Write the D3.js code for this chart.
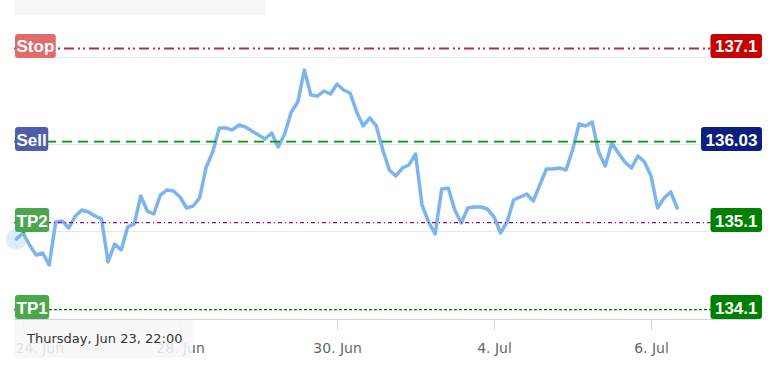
<!DOCTYPE html>
<html><head><meta charset="utf-8">
<script src="https://cdn.jsdelivr.net/npm/d3@7"></script>
<style>body{margin:0;background:#fff}svg{display:block}</style>
</head><body><svg id="c" width="771" height="371"></svg>
<script>
// Prices every 2 hours on an ordinal (weekend-less) axis; index 0 = Thu Jun 23 22:00
const prices = [
 134.911,134.980,134.842,134.727,134.750,134.612,135.106,135.118,135.037,135.175,
 135.244,135.221,135.175,135.141,134.647,134.853,134.785,135.049,135.083,135.405,
 135.232,135.198,135.416,135.474,135.462,135.393,135.267,135.290,135.382,135.738,
 135.910,136.186,136.186,136.163,136.220,136.197,136.151,136.105,136.059,136.128,
 135.968,136.117,136.370,136.484,136.852,136.565,136.553,136.611,136.576,136.691,
 136.622,136.588,136.370,136.209,136.301,136.209,135.933,135.703,135.635,135.726,
 135.761,135.887,135.301,135.106,134.968,135.485,135.497,135.244,135.095,135.267,
 135.278,135.278,135.255,135.164,134.980,135.106,135.359,135.393,135.428,135.347,
 135.531,135.715,135.715,135.726,135.703,135.933,136.232,136.209,136.255,135.910,
 135.749,136.014,135.899,135.795,135.726,135.864,135.795,135.635,135.267,135.382,
 135.451,135.267
];
const tickIndex = [1, 25, 49, 73, 97];
const tickLabels = ["24. Jun", "28. Jun", "30. Jun", "4. Jul", "6. Jul"];
const gridValues = [135, 136, 137];
const levelNames = ["Stop", "Sell", "TP2", "TP1"];
const levelValues = [137.1, 136.03, 135.1, 134.1];
const levelTexts = ["137.1", "136.03", "135.1", "134.1"];
const hoverIndex = 0;
const tooltipText = "Thursday, Jun 23, 22:00";

// styles
const levelStroke = ["#a93636", "#009a00", "#9c009c", "#006f00"];
const levelDash = ["10,4,2,3,2,4", "10,6", "4,3,1,3", "3,2"];
const levelWidth = [2, 1.8, 1.3, 1.2];
const leftFill = ["#df6b6b", "#4f5eaa", "#4ca64c", "#4ca64c"];
const rightFill = ["#c80000", "#0b1f80", "#008000", "#008000"];

const svg = d3.select("#c");
const L = 14, R = 757;
const x = d3.scaleLinear().domain([-0.38, 113.2]).range([L, R]);
const y = d3.scaleLinear().domain([134, 137]).range([318.3, 57.1]);
const axisY = 319;

// top grey strip
svg.append("rect").attr("x", 14).attr("y", 0).attr("width", 252).attr("height", 15).attr("fill", "#f7f7f7");

// grid
svg.append("g").selectAll("line").data(gridValues).join("line")
  .attr("x1", L).attr("x2", R)
  .attr("y1", d => Math.round(y(d)) + 0.5).attr("y2", d => Math.round(y(d)) + 0.5)
  .attr("stroke", "#e6e6e6").attr("stroke-width", 1);

// x axis
const xAxis = d3.axisBottom(x).tickValues(tickIndex).tickFormat((d, i) => tickLabels[i]).tickSize(11).tickPadding(13);
const ax = svg.append("g").attr("transform", `translate(0,${axisY})`).call(xAxis);
ax.select(".domain").attr("stroke", "#ccd6eb").attr("d", `M${L},0.5H${R}`);
ax.selectAll(".tick line").attr("stroke", "#ccd6eb");
ax.selectAll(".tick text").attr("fill", "#666").style("font", "14px 'DejaVu Sans'");
ax.selectAll(".tick text").each(function () {
  const t = d3.select(this);
  const w = this.getComputedTextLength();
  const tx = x(tickIndex[tickLabels.indexOf(t.text())]);
  if (tx - w / 2 < L + 1) t.attr("text-anchor", "start").attr("x", L + 1 - tx);
});

// series
const line = d3.line().x((d, i) => x(i)).y(d => y(d));
svg.append("path").datum(prices).attr("d", line)
  .attr("fill", "none").attr("stroke", "#7cb5ec").attr("stroke-width", 3.5)
  .attr("stroke-linejoin", "round").attr("stroke-linecap", "round");

// hover halo
svg.append("circle").attr("cx", x(hoverIndex)).attr("cy", y(prices[hoverIndex]))
  .attr("r", 10.5).attr("fill", "#7cb5ec").attr("fill-opacity", 0.25);
svg.append("circle").attr("cx", x(hoverIndex) + 7.5).attr("cy", y(levelValues[2]) + 8)
  .attr("r", 2).attr("fill", "none").attr("stroke", "#1a7a1a").attr("stroke-width", 1);

// level lines
const lv = svg.append("g");
lv.selectAll("line").data(levelValues).join("line")
  .attr("x1", L).attr("x2", R)
  .attr("y1", d => y(d)).attr("y2", d => y(d))
  .attr("stroke", (d, i) => levelStroke[i])
  .attr("stroke-dasharray", (d, i) => levelDash[i])
  .attr("stroke-width", (d, i) => levelWidth[i]);

// level labels
const font = "bold 17px 'Liberation Sans', Arial, sans-serif";
levelValues.forEach((v, i) => {
  const yy = y(v);
  const top = yy - 14.5, h = 24;
  // left
  const gl = svg.append("g");
  const rl = gl.append("rect");
  const tl = gl.append("text").text(levelNames[i]).attr("fill", "#fff").style("font", font)
    .attr("x", L + 1 + 1.5).attr("y", top + 18.5);
  const wl = tl.node().getComputedTextLength();
  rl.attr("x", L + 1).attr("y", top).attr("width", wl + 3).attr("height", h).attr("rx", 3).attr("fill", leftFill[i]);
  // right
  const gr = svg.append("g");
  const rr = gr.append("rect");
  const tr = gr.append("text").text(levelTexts[i]).attr("fill", "#fff").style("font", font)
    .attr("text-anchor", "end").attr("x", 762 - 4.5).attr("y", top + 18.5);
  const wr = tr.node().getComputedTextLength();
  rr.attr("x", 762 - wr - 9).attr("y", top).attr("width", wr + 9).attr("height", h).attr("rx", 3).attr("fill", rightFill[i]);
});

// tooltip
const tg = svg.append("g");
tg.append("rect").attr("x", 14).attr("y", 320).attr("width", 179).attr("height", 38)
  .attr("fill", "rgba(247,247,247,0.85)");
tg.append("text").text(tooltipText).attr("x", 27).attr("y", 343)
  .attr("fill", "#333").style("font", "13px 'DejaVu Sans'");
</script></body></html>
